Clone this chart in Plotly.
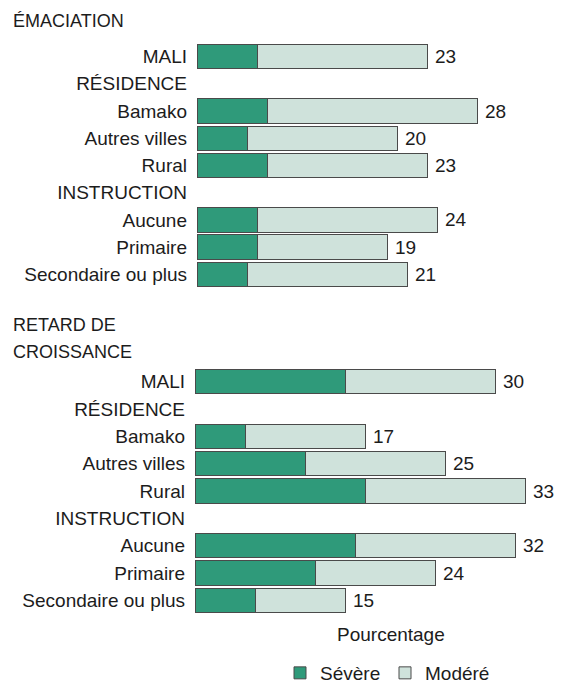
import plotly.graph_objects as go

# ---- data ----
rows = ["MALI", "RÉSIDENCE", "Bamako", "Autres villes", "Rural",
        "INSTRUCTION", "Aucune", "Primaire", "Secondaire ou plus"]
bar_rows = ["MALI", "Bamako", "Autres villes", "Rural",
            "Aucune", "Primaire", "Secondaire ou plus"]
emac_severe = [6, 7, 5, 7, 6, 6, 5]
emac_total = [23, 28, 20, 23, 24, 19, 21]
retard_severe = [15, 5, 11, 17, 16, 12, 6]
retard_total = [30, 17, 25, 33, 32, 24, 15]
series_names = ["Sévère", "Modéré"]

# page body has an 8px margin: the figure starts at (8, 8)
OFF = 8
W, H = 563 - OFF, 685 - OFF
FONT = "Liberation Sans, Arial, sans-serif"
TXT = "#1c1c1c"
GREEN = "#2f9a7a"
LIGHT = "#cfe2db"
EDGE = "#4a4a4a"
FS = 19

def px(v):
    return (v - OFF) / W

def py(v):
    return 1 - (v - OFF) / H

ypos = [rows.index(r) for r in bar_rows]

fig = go.Figure()

panels = [
    dict(sev=emac_severe, tot=emac_total, xa="x", ya="y",
         xdom=[px(197), px(547)], ydom=[py(288), py(43)], show=True),
    dict(sev=retard_severe, tot=retard_total, xa="x2", ya="y2",
         xdom=[px(195), px(545)], ydom=[py(614), py(368)], show=False),
]

annotations = []
for p in panels:
    mod = [t - s for s, t in zip(p["sev"], p["tot"])]
    fig.add_trace(go.Bar(
        x=p["sev"], y=ypos, orientation="h", name=series_names[0],
        marker=dict(color=GREEN, line=dict(color=EDGE, width=1)),
        width=0.9, xaxis=p["xa"], yaxis=p["ya"], showlegend=p["show"],
        legendrank=1, hoverinfo="skip"))
    fig.add_trace(go.Bar(
        x=mod, y=ypos, orientation="h", name=series_names[1],
        marker=dict(color=LIGHT, line=dict(color=EDGE, width=1)),
        width=0.9, xaxis=p["xa"], yaxis=p["ya"], showlegend=p["show"],
        legendrank=2, hoverinfo="skip"))
    for t, yv in zip(p["tot"], ypos):
        annotations.append(dict(
            x=t, y=yv, xref=p["xa"], yref=p["ya"], text=str(t),
            showarrow=False, xanchor="left", xshift=6,
            font=dict(family=FONT, size=FS, color=TXT)))

axis_common = dict(showgrid=False, zeroline=False, showline=False)
for i, p in enumerate(panels):
    sfx = "" if i == 0 else "2"
    fig.layout["xaxis" + sfx] = dict(
        domain=p["xdom"], range=[0, 35], showticklabels=False,
        anchor="y" + sfx, fixedrange=True, **axis_common)
    fig.layout["yaxis" + sfx] = dict(
        domain=p["ydom"], range=[8.5, -0.5], tickmode="array",
        tickvals=list(range(len(rows))), ticktext=rows, ticks="",
        ticklabelstandoff=9, anchor="x" + sfx,
        tickfont=dict(family=FONT, size=FS, color=TXT), **axis_common)

for txt, yv in [("ÉMACIATION", 21), ("RETARD DE", 325), ("CROISSANCE", 352)]:
    annotations.append(dict(x=px(11), y=py(yv), xref="paper", yref="paper",
                            text=txt, showarrow=False,
                            xanchor="left", yanchor="middle",
                            font=dict(family=FONT, size=FS - 1, color=TXT)))
annotations.append(dict(x=px(391), y=py(634), xref="paper", yref="paper",
                        text="Pourcentage", showarrow=False,
                        xanchor="center", yanchor="middle",
                        font=dict(family=FONT, size=FS, color=TXT)))

fig.update_layout(
    width=W, height=H,
    margin=dict(l=0, r=0, t=0, b=0, autoexpand=False),
    paper_bgcolor="white", plot_bgcolor="white",
    barmode="stack", bargap=0.1,
    annotations=annotations,
    legend=dict(orientation="h", x=px(280), xanchor="left",
                y=py(673), yanchor="middle", itemwidth=30,
                entrywidth=60, entrywidthmode="pixels",
                font=dict(family=FONT, size=FS, color=TXT),
                tracegroupgap=0, traceorder="normal"),
)

fig.write_html("out.html")
